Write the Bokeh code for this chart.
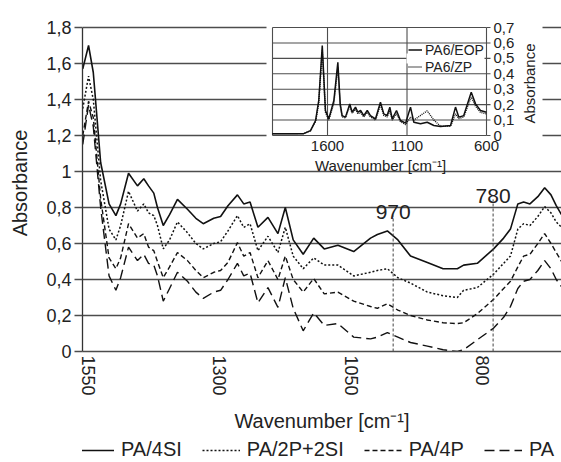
import math
from bokeh.plotting import figure
from bokeh.layouts import column
from bokeh.models import (Range1d, FixedTicker, CustomJSTickFormatter, Legend, LegendItem)
from bokeh.core.properties import value
from bokeh.embed import file_html
from bokeh.resources import INLINE

# ---------------- data ----------------
wavenumber = [1560, 1549, 1540, 1526, 1510, 1497, 1488, 1473, 1456, 1444, 1435, 1425, 1418,
              1407, 1395, 1380, 1361, 1345, 1331, 1311, 1298, 1284, 1266, 1254, 1242, 1227,
              1208, 1189, 1175, 1160, 1141, 1121, 1101, 1075, 1045, 1013, 1000, 981, 961,
              937, 905, 875, 848, 836, 810, 779, 760, 747, 733, 722, 710, 695, 682, 670, 660, 650]
pa_4si = [1.57, 1.70, 1.55, 1.05, 0.82, 0.755, 0.82, 0.99, 0.92, 0.96, 0.92, 0.88, 0.80,
          0.70, 0.76, 0.845, 0.79, 0.74, 0.71, 0.74, 0.75, 0.81, 0.87, 0.82, 0.83, 0.69,
          0.745, 0.655, 0.80, 0.62, 0.54, 0.63, 0.57, 0.59, 0.555, 0.63, 0.65, 0.67, 0.62,
          0.53, 0.495, 0.46, 0.46, 0.48, 0.49, 0.57, 0.63, 0.68, 0.82, 0.83, 0.82, 0.86, 0.91, 0.87, 0.81, 0.76]
pa_2p2si = [1.35, 1.53, 1.40, 0.95, 0.68, 0.62, 0.70, 0.89, 0.78, 0.82, 0.77, 0.755, 0.70,
            0.57, 0.62, 0.72, 0.66, 0.60, 0.57, 0.60, 0.61, 0.67, 0.755, 0.69, 0.71, 0.56,
            0.64, 0.55, 0.69, 0.53, 0.46, 0.52, 0.48, 0.48, 0.42, 0.44, 0.45, 0.46, 0.41,
            0.38, 0.33, 0.31, 0.30, 0.34, 0.355, 0.43, 0.49, 0.53, 0.68, 0.71, 0.70, 0.75, 0.805, 0.77, 0.72, 0.69]
pa_4p = [1.20, 1.39, 1.30, 0.85, 0.52, 0.46, 0.52, 0.71, 0.63, 0.655, 0.58, 0.56, 0.50,
         0.41, 0.47, 0.55, 0.505, 0.45, 0.41, 0.44, 0.45, 0.495, 0.605, 0.53, 0.55, 0.41,
         0.505, 0.40, 0.53, 0.40, 0.33, 0.405, 0.32, 0.33, 0.28, 0.25, 0.24, 0.265, 0.23,
         0.20, 0.175, 0.16, 0.155, 0.16, 0.21, 0.29, 0.35, 0.39, 0.47, 0.53, 0.54, 0.60, 0.655, 0.60, 0.55, 0.50]
pa_4 = [1.15, 1.37, 1.25, 0.80, 0.42, 0.34, 0.41, 0.58, 0.505, 0.54, 0.49, 0.48, 0.42,
        0.28, 0.35, 0.44, 0.39, 0.33, 0.295, 0.33, 0.34, 0.40, 0.49, 0.42, 0.435, 0.27,
        0.355, 0.245, 0.41, 0.24, 0.115, 0.215, 0.145, 0.155, 0.08, 0.07, 0.08, 0.105, 0.08,
        0.05, 0.03, 0.01, 0.0, 0.01, 0.065, 0.13, 0.19, 0.25, 0.35, 0.39, 0.40, 0.45, 0.505, 0.46, 0.40, 0.36]
series_labels = ["PA/4SI", "PA/2P+2SI", "PA/4P", "PA"]

x_ticks = [1550, 1300, 1050, 800]
y_ticks = [0, 0.2, 0.4, 0.6, 0.8, 1.0, 1.2, 1.4, 1.6, 1.8]
marker_wavenumbers = [970, 780]
marker_labels = ["970", "780"]

inset_wavenumber = [1946, 1750, 1707, 1675, 1655, 1633, 1613, 1592, 1560, 1535, 1520, 1508, 1487,
                    1460, 1445, 1424, 1409, 1392, 1372, 1350, 1330, 1298, 1267, 1246, 1225, 1208,
                    1193, 1166, 1141, 1109, 1078, 1057, 1015, 973, 931, 889, 826, 795, 774, 743,
                    696, 669, 638, 600]
pa6_eop = [0.011, 0.012, 0.032, 0.097, 0.227, 0.583, 0.162, 0.108, 0.227, 0.475, 0.205, 0.129, 0.119,
           0.205, 0.151, 0.184, 0.151, 0.162, 0.129, 0.162, 0.129, 0.108, 0.216, 0.14, 0.129, 0.184,
           0.108, 0.162, 0.097, 0.080, 0.184, 0.086, 0.076, 0.086, 0.065, 0.058, 0.065, 0.184, 0.119, 0.129,
           0.281, 0.205, 0.162, 0.151]
pa6_zp = [0.011, 0.012, 0.030, 0.090, 0.210, 0.550, 0.150, 0.100, 0.210, 0.440, 0.190, 0.120, 0.115,
          0.190, 0.145, 0.170, 0.140, 0.150, 0.120, 0.150, 0.120, 0.100, 0.200, 0.130, 0.120, 0.160,
          0.100, 0.140, 0.090, 0.070, 0.120, 0.100, 0.130, 0.160, 0.100, 0.060, 0.060, 0.140, 0.110, 0.120,
          0.250, 0.190, 0.150, 0.140]
inset_labels = ["PA6/EOP", "PA6/ZP"]
inset_x_ticks = [1600, 1100, 600]
inset_y_ticks = [0, 0.1, 0.2, 0.3, 0.4, 0.5, 0.6, 0.7]
inset_x_limits = (1946, 600)
inset_y_limits = (0, 0.7)

# ---------------- layout / style ----------------
FONT = "Liberation Sans"
TXT = "#222222"
GRID = "#4d4d4d"
W, H = 561, 462
LEG_H = 26                                  # height of the legend strip below the chart
MH = H - LEG_H                              # main figure height
FL, FR, FT, FB = 82, 561, 14, 351          # main frame in px (top padded for inset labels)
Y_TOP_PX = 27                               # px of y = 1.8
IL, IR, IT, IB = 272, 486, 27, 135          # inset box in px
y_max = y_ticks[-1]
y_per_px = y_max / (FB - Y_TOP_PX)

p = figure(width=W, height=MH,
           x_range=Range1d(1560.5, 650),
           y_range=Range1d(0, y_max + (Y_TOP_PX - FT) * y_per_px),
           output_backend="svg", toolbar_location=None,
           min_border_left=FL, min_border_right=W - FR,
           min_border_top=FT, min_border_bottom=MH - FB)
p.outline_line_color = None
p.background_fill_color = "white"
p.border_fill_color = "white"

# inset coordinate system mapped onto main frame
ux = (inset_x_limits[0] - inset_x_limits[1]) / (IR - IL)   # units per px
uy = (inset_y_limits[1] - inset_y_limits[0]) / (IB - IT)
p.extra_x_ranges = {"ix": Range1d(inset_x_limits[0] + (IL - FL) * ux,
                                  inset_x_limits[1] - (FR - IR) * ux)}
p.extra_y_ranges = {"iy": Range1d(inset_y_limits[0] - (FB - IB) * uy,
                                  inset_y_limits[1] + (IT - FT) * uy)}

def ipx(px):
    return inset_x_limits[0] - (px - IL) * ux

def ipy(py):
    return inset_y_limits[0] + (IB - py) * uy

# axes
p.xgrid.visible = False
p.ygrid.ticker = FixedTicker(ticks=y_ticks)
p.ygrid.grid_line_color = GRID
p.ygrid.grid_line_width = 1.3

xa = p.xaxis[0]
xa.ticker = FixedTicker(ticks=x_ticks)
xa.major_label_orientation = "vertical"
xa.major_tick_out = 0
xa.major_tick_in = 0
xa.minor_tick_line_color = None
xa.axis_line_color = GRID
xa.axis_line_width = 1.3
xa.major_label_text_font = FONT
xa.major_label_text_font_size = "18px"
xa.major_label_text_color = TXT
xa.major_label_standoff = 4
xa.axis_label = "Wavenumber [cm\u207b\u00b9]"
xa.axis_label_text_font = FONT
xa.axis_label_text_font_size = "20px"
xa.axis_label_text_font_style = "normal"
xa.axis_label_text_color = TXT
xa.axis_label_standoff = 11

ya = p.yaxis[0]
ya.ticker = FixedTicker(ticks=y_ticks)
ya.bounds = (0, y_max)
ya.formatter = CustomJSTickFormatter(code="""
    const v = Math.round(tick * 10) / 10;
    return v.toString().replace('.', ',');
""")
ya.major_tick_out = 8
ya.major_tick_in = 0
ya.major_tick_line_color = GRID
ya.major_tick_line_width = 1.3
ya.minor_tick_line_color = None
ya.axis_line_color = "#333333"
ya.axis_line_width = 1.3
ya.major_label_text_font = FONT
ya.major_label_text_font_size = "18px"
ya.major_label_text_color = TXT
ya.major_label_standoff = 3
ya.axis_label = "Absorbance"
ya.axis_label_text_font = FONT
ya.axis_label_text_font_size = "20px"
ya.axis_label_text_font_style = "normal"
ya.axis_label_text_color = TXT
ya.axis_label_standoff = 12

# main spectra
styles = [dict(line_dash="solid", line_width=1.6),
          dict(line_dash="2 2", line_width=1.5),
          dict(line_dash="5 3", line_width=1.4),
          dict(line_dash="10 5", line_width=1.4)]
renderers = []
for ys, st in zip([pa_4si, pa_2p2si, pa_4p, pa_4], styles):
    r = p.line(wavenumber, ys, line_color="#111111", **st)
    renderers.append(r)

# marker lines and labels
marker_tops = [0.755, 0.845]
p.segment(x0=marker_wavenumbers, y0=[0, 0], x1=marker_wavenumbers, y1=marker_tops,
          line_color="#444444", line_width=1, line_dash="3 2")
p.text(x=marker_wavenumbers, y=[t + 0.02 for t in marker_tops], text=marker_labels,
       text_font=value(FONT), text_font_size="21px", text_color=TXT,
       text_align="center", text_baseline="alphabetic")

# ---------------- inset ----------------
p.quad(left=[ipx(266)], right=[ipx(542)], top=[ipy(FT)], bottom=[ipy(162)],
       fill_color="white", line_color=None, x_range_name="ix", y_range_name="iy")
x0, x1 = inset_x_limits
# horizontal inset grid
p.segment(x0=[x0] * len(inset_y_ticks), y0=inset_y_ticks, x1=[x1] * len(inset_y_ticks),
          y1=inset_y_ticks, line_color=GRID, line_width=1.1,
          x_range_name="ix", y_range_name="iy")
# vertical inset grid / border
vx = [x0] + inset_x_ticks
p.segment(x0=vx, y0=[0] * len(vx), x1=vx, y1=[inset_y_limits[1]] * len(vx),
          line_color=GRID, line_width=1.1, x_range_name="ix", y_range_name="iy")
# right tick marks
p.segment(x0=[x1] * len(inset_y_ticks), y0=inset_y_ticks, x1=[ipx(IR + 4)] * len(inset_y_ticks),
          y1=inset_y_ticks, line_color=GRID, line_width=1.1,
          x_range_name="ix", y_range_name="iy")
# white patch behind the inset legend
p.quad(left=[ipx(406)], right=[ipx(484)], top=[ipy(53)], bottom=[ipy(63)],
       fill_color="white", line_color=None, x_range_name="ix", y_range_name="iy")

ri1 = p.line(inset_wavenumber, pa6_eop, line_color="#111111", line_width=1.5,
             x_range_name="ix", y_range_name="iy")
ri2 = p.line(inset_wavenumber, pa6_zp, line_color="#111111", line_width=1.4, line_dash="1 1",
             x_range_name="ix", y_range_name="iy")

# inset tick labels
p.text(x=[ipx(IR + 7)] * len(inset_y_ticks), y=inset_y_ticks,
       text=[("%g" % v).replace(".", ",") for v in inset_y_ticks],
       text_font=value(FONT), text_font_size="15px", text_color=TXT,
       text_align="left", text_baseline="middle", x_range_name="ix", y_range_name="iy")
p.text(x=inset_x_ticks, y=[ipy(IB + 5)] * len(inset_x_ticks),
       text=[str(v) for v in inset_x_ticks],
       text_font=value(FONT), text_font_size="15px", text_color=TXT,
       text_align="center", text_baseline="top", x_range_name="ix", y_range_name="iy")
p.text(x=[ipx(380)], y=[ipy(165)], text=["Wavenumber [cm\u207b\u00b9]"],
       text_font=value(FONT), text_font_size="15px", text_color=TXT,
       text_align="center", text_baseline="middle", x_range_name="ix", y_range_name="iy")
p.text(x=[ipx(529)], y=[ipy(83)], text=["Absorbance"], angle=math.pi / 2,
       text_font=value(FONT), text_font_size="15px", text_color=TXT,
       text_align="center", text_baseline="middle", x_range_name="ix", y_range_name="iy")

inset_legend = Legend(items=[LegendItem(label=inset_labels[0], renderers=[ri1]),
                             LegendItem(label=inset_labels[1], renderers=[ri2])],
                      location=(407 - FL, FB - 76), orientation="vertical",
                      glyph_width=14, glyph_height=15, label_height=17, spacing=0,
                      padding=1, margin=0, label_standoff=3,
                      label_text_font=FONT, label_text_font_size="14px", label_text_color=TXT,
                      background_fill_alpha=0, border_line_alpha=0)
p.add_layout(inset_legend)

# ---------------- legend strip ----------------
q = figure(width=W, height=LEG_H, x_range=Range1d(0, 1), y_range=Range1d(0, 1),
           output_backend="svg", toolbar_location=None,
           x_axis_location=None, y_axis_location=None,
           min_border_left=0, min_border_right=0, min_border_top=0, min_border_bottom=0)
q.outline_line_color = None
q.xgrid.visible = False
q.ygrid.visible = False
q.border_fill_color = "white"
# sample renderers (placed outside the visible range) that carry the legend styles
legend_renderers = [q.line(x=[-2, -1], y=[-2, -2], line_color="#111111", **st) for st in styles]
main_legend = Legend(items=[LegendItem(label=l, renderers=[r])
                            for l, r in zip(series_labels, legend_renderers)],
                     location=(76 - FL, 1), orientation="horizontal",
                     glyph_width=38, glyph_height=20, label_height=20, spacing=20,
                     padding=0, margin=0, label_standoff=7,
                     label_text_font=FONT, label_text_font_size="20px", label_text_color=TXT,
                     background_fill_alpha=0, border_line_alpha=0)
q.add_layout(main_legend)

open("out.html", "w").write(file_html(column(p, q, spacing=0), INLINE))
